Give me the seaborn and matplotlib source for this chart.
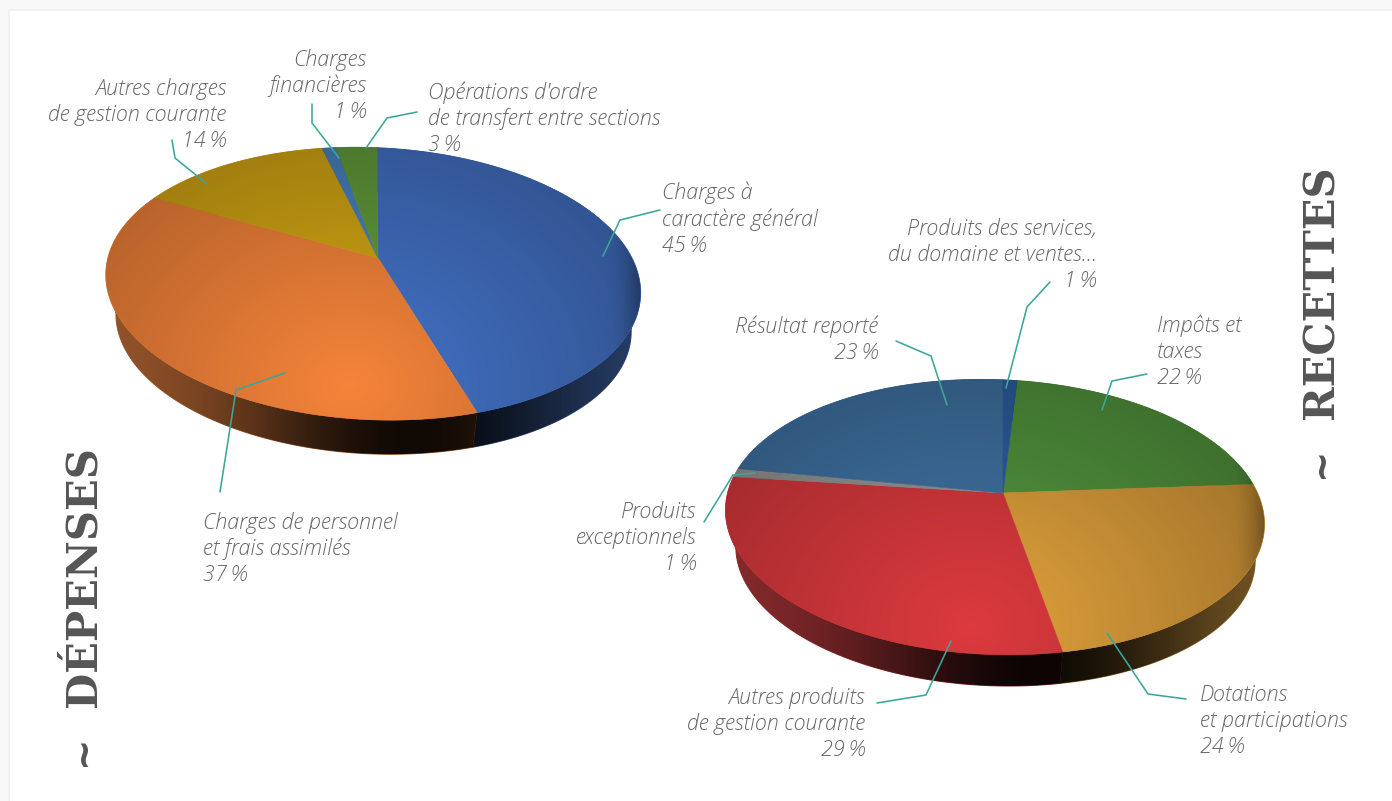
import numpy as np
import seaborn as sns
import matplotlib.pyplot as plt
from matplotlib.patches import Polygon, Rectangle

# values
dep_labels = ["Charges à\ncaractère général\n45\u2009%",
              "Charges de personnel\net frais assimilés\n37\u2009%",
              "Autres charges\nde gestion courante\n14\u2009%",
              "Charges\nfinancières\n1\u2009%",
              "Opérations d'ordre\nde transfert entre sections\n3\u2009%"]
dep_values = [45, 37, 14, 1, 3]
dep_colors = ["#4473c8", "#f5843a", "#d6a814", "#4a86c4", "#659f3c"]

rec_labels = ["Impôts et\ntaxes\n22\u2009%",
              "Dotations\net participations\n24\u2009%",
              "Autres produits\nde gestion courante\n29\u2009%",
              "Produits\nexceptionnels\n1\u2009%",
              "Résultat reporté\n23\u2009%",
              "Produits des services,\ndu domaine et ventes...\n1\u2009%"]
rec_values = [22, 24, 29, 1, 23, 1]
rec_colors = ["#559a40", "#e2a23c", "#dc3a3e", "#9a9a9a", "#4276a8", "#2f62a6"]

# label anchors (x, middle line y, alignment)
dep_text = [(662, 219, "left"), (203, 549, "left"), (226, 115, "right"),
            (366, 86, "right"), (428, 119, "left")]
rec_text = [(1157, 352, "left"), (1200, 721, "left"), (865, 724, "right"),
            (696, 538, "right"), (878, 340, "right"), (1097, 255, "right")]

dep_leaders = [[(660, 210), (620, 220), (603, 256)],
               [(220, 492), (236, 390), (285, 373)],
               [(172, 140), (175, 158), (207, 184)],
               [(312, 104), (312, 123), (339, 158)],
               [(417, 112), (387, 118), (366, 148)]]
rec_leaders = [[(1147, 374), (1112, 381), (1102, 410)],
               [(1186, 699), (1148, 694), (1107, 633)],
               [(877, 703), (926, 695), (951, 641)],
               [(704, 522), (733, 475), (755, 473)],
               [(896, 341), (931, 356), (947, 405)],
               [(1050, 282), (1027, 307), (1006, 388)]]

sns.set_theme(style="white")
plt.rcParams["font.family"] = ["Open Sans", "Lato", "DejaVu Sans"]

fig = plt.figure(figsize=(13.92, 8.01), dpi=100, facecolor="#f8f8f8")
ax = fig.add_axes([0, 0, 1, 1])
ax.axis("off")
ax.add_patch(Rectangle((9, 10), 1400, 800, fc="white", ec="#f1f1f1", lw=1.5, zorder=0))


def draw_pie(values, colors, start, cx, cy, a, b, k, j, rot, depth, light):
    # squashed pie with a perspective: the library's wedges get reprojected
    wedges, _ = ax.pie(values, colors=colors, startangle=start, counterclock=False)
    t = np.deg2rad(rot)

    def project(xy, shrink=1.0, shift=0):
        x, y = xy[:, 0] * shrink, xy[:, 1] * shrink
        w = 1 + k * y + j * x
        px, py = b * x / w, a * y / w
        return np.column_stack([cx + px * np.cos(t) + py * np.sin(t),
                                cy + px * np.sin(t) - py * np.cos(t) + shift])

    shapes = []
    for w in wedges:
        ang = np.deg2rad(np.linspace(w.theta1, w.theta2, 120))
        rim = np.column_stack([np.cos(ang), np.sin(ang)])
        shapes.append((np.vstack([[0, 0], rim]), rim))
        w.remove()

    x0, x1 = cx - 300, cx + 300
    y0, y1 = cy - 130, cy + 250
    Y, X = np.mgrid[y0:y1, x0:x1]

    # sides first
    dark = 0.9 * np.exp(-((X - (cx + 35)) / 185.0) ** 2)
    over = np.zeros(X.shape + (4,))
    over[..., 3] = dark
    for (poly, rim), c in zip(shapes, colors):
        band = np.vstack([project(rim), project(rim[::-1], 0.965, depth)])
        side = sns.desaturate(c, 0.9)
        side = tuple(0.66 * v for v in side)
        ax.add_patch(Polygon(band, fc=side, ec=side, lw=0.8, zorder=1))
        img = ax.imshow(over, extent=(x0, x1, y1, y0), zorder=2, aspect="auto")
        img.set_clip_path(Polygon(band, transform=ax.transData))

    # top faces
    for (poly, rim), c in zip(shapes, colors):
        ax.add_patch(Polygon(project(poly), fc=c, ec=c, lw=0.4, zorder=3))
    ang = np.linspace(0, 2 * np.pi, 360)
    outline = project(np.column_stack([np.cos(ang), np.sin(ang)]))
    d = np.hypot((X - light[0]) / 290.0, (Y - light[1]) / 240.0)
    shade = 0.30 * np.clip(d, 0, 1.25) / 1.25
    shade += 0.28 * np.clip((X - (cx + 225)) / 40.0, 0, 1) ** 2
    over2 = np.zeros(X.shape + (4,))
    over2[..., 3] = np.clip(shade, 0, 0.8)
    img = ax.imshow(over2, extent=(x0, x1, y1, y0), zorder=4, aspect="auto")
    img.set_clip_path(Polygon(outline, transform=ax.transData))


draw_pie(dep_values, dep_colors, 91.5, 378, 258, 131, 262.5, 0.191, 0.013, 2.7, 41, (350, 385))
draw_pie(rec_values, rec_colors, 87.5, 1003, 493, 133, 265, 0.178, 0.026, 2.2, 38, (970, 625))

for leaders in (dep_leaders, rec_leaders):
    for pts in leaders:
        ax.plot(*zip(*pts), color="#3aa898", lw=1.15, zorder=6, solid_joinstyle="miter")

for labels, spots in ((dep_labels, dep_text), (rec_labels, rec_text)):
    for lab, (x, y, ha) in zip(labels, spots):
        ax.text(x, y, lab, ha=ha, va="center", ma=ha, fontsize=15.5, style="italic",
                weight="light", color="#666666", linespacing=1.24, zorder=7)

title_font = dict(family="DejaVu Serif", weight="bold", color="#555555", rotation=90,
                  ha="center", va="center", zorder=7)
ax.text(84, 577, "DÉPENSES", fontsize=30, **title_font)
ax.text(1322, 292, "RECETTES", fontsize=30, **title_font)
title_font["family"] = "DejaVu Sans"
ax.text(83, 750, "~", fontsize=27, **title_font)
ax.text(1321, 462, "~", fontsize=27, **title_font)

ax.set_aspect("auto")
ax.set_xlim(0, 1392)
ax.set_ylim(801, 0)
fig.savefig("out.png", dpi=100, facecolor=fig.get_facecolor())
